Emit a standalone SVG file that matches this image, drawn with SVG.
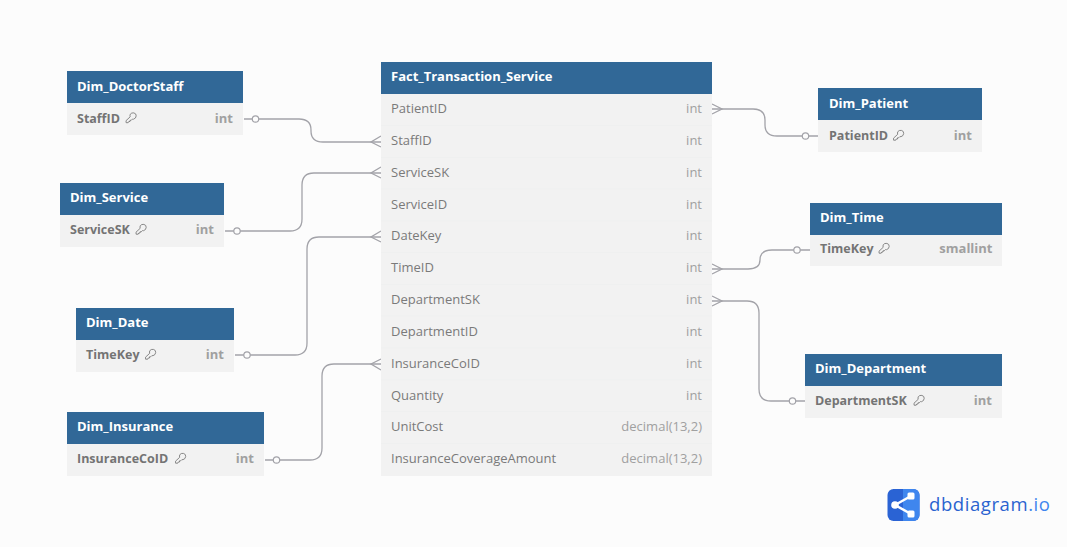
<svg xmlns="http://www.w3.org/2000/svg" width="1067" height="547" viewBox="0 0 1067 547">
<style>
text{font-family:"Open Sans","Noto Sans","DejaVu Sans",sans-serif;font-size:13px}
.hd{fill:#316897}
.bd{fill:#f2f2f2}
.ln{fill:none;stroke:#eff0f0;stroke-width:1}
.t{fill:#fff;font-weight:700}
.f{fill:#7a7a7a}
.ty{fill:#a0a0a0;text-anchor:end}
.k{font-weight:700;fill:#747474;font-size:12.5px}
.tk{font-weight:700;fill:#a0a0a0;text-anchor:end}
.c{fill:none;stroke:#a3a3a9;stroke-width:1.3}
.o{fill:#fcfcfc;stroke:#a3a3a9;stroke-width:1.2}
.key{fill:none;stroke:#7c7c7c;stroke-width:.9}
</style>
<defs>
<g id="key"><path class="key" d="M4.800 1.700Q6 0 8.400 .4Q10.800 1 10.700 3.400Q10.500 6 8 6.700L6.900 6.600L5.700 7.800H4.500V9H3.300L2.700 10.200H.6L.5 8.200L4.700 4.300Q4.200 3 4.800 1.700Z"/></g>
</defs>
<rect width="1067" height="547" fill="#fcfcfc"/>
<g id="connectors">
<path class="c" d="M244 119H299Q311 119 311 130V131Q311 142 323 142H381"/><path class="c" d="M381 136L371 142L381 147"/><circle class="o" cx="255.500" cy="119" r="3.200"/>
<path class="c" d="M225 231H290Q302 231 302 219V185Q302 173 314 173H381"/><path class="c" d="M381 167L371 173L381 178"/><circle class="o" cx="237" cy="231" r="3.200"/>
<path class="c" d="M235 355H295Q307 355 307 343V249Q307 237 319 237H381"/><path class="c" d="M381 231L371 237L381 242"/><circle class="o" cx="247" cy="355" r="3.200"/>
<path class="c" d="M265 460H310Q322 460 322 448V376Q322 364 334 364H381"/><path class="c" d="M381 359L371 364L381 370"/><circle class="o" cx="276.500" cy="460" r="3.200"/>
<path class="c" d="M712 109H753Q765 109 765 120V125Q765 136 777 136H818"/><path class="c" d="M712 104L722 109L712 114"/><circle class="o" cx="805.500" cy="136" r="3.200"/>
<path class="c" d="M712 269H748Q760 269 760 260Q760 250 772 250H810"/><path class="c" d="M712 264L722 269L712 274"/><circle class="o" cx="797" cy="250" r="3.200"/>
<path class="c" d="M712 301H747Q759 301 759 313V389Q759 401 771 401H805"/><path class="c" d="M712 296L722 301L712 306"/><circle class="o" cx="792.500" cy="401" r="3.200"/>
</g>
<g id="Fact_Transaction_Service">
<rect class="bd" x="381" y="94" width="331" height="382"/>
<rect class="hd" x="381" y="62" width="331" height="32"/>
<path class="ln" d="M381 125.500H712M381 157.500H712M381 189H712M381 221H712M381 252.500H712M381 284.500H712M381 316H712M381 348H712M381 380H712M381 411.500H712M381 443.500H712"/>
<text class="t" x="391" y="81">Fact_Transaction_Service</text>
<text class="f" x="391" y="113">PatientID</text><text class="ty" x="702" y="113">int</text>
<text class="f" x="391" y="145">StaffID</text><text class="ty" x="702" y="145">int</text>
<text class="f" x="391" y="177">ServiceSK</text><text class="ty" x="702" y="177">int</text>
<text class="f" x="391" y="209">ServiceID</text><text class="ty" x="702" y="209">int</text>
<text class="f" x="391" y="240">DateKey</text><text class="ty" x="702" y="240">int</text>
<text class="f" x="391" y="272">TimeID</text><text class="ty" x="702" y="272">int</text>
<text class="f" x="391" y="304">DepartmentSK</text><text class="ty" x="702" y="304">int</text>
<text class="f" x="391" y="336">DepartmentID</text><text class="ty" x="702" y="336">int</text>
<text class="f" x="391" y="368">InsuranceCoID</text><text class="ty" x="702" y="368">int</text>
<text class="f" x="391" y="400">Quantity</text><text class="ty" x="702" y="400">int</text>
<text class="f" x="391" y="431">UnitCost</text><text class="ty" x="702" y="431">decimal(13,2)</text>
<text class="f" x="391" y="463">InsuranceCoverageAmount</text><text class="ty" x="702" y="463">decimal(13,2)</text>
</g>
<g id="Dim_DoctorStaff">
<rect class="bd" x="67" y="103" width="176" height="32"/><rect class="hd" x="67" y="71" width="176" height="32"/>
<text class="t" x="77" y="91">Dim_DoctorStaff</text>
<text class="k" x="77" y="123">StaffID</text><use href="#key" x="125.500" y="112.500"/><text class="tk" x="233" y="123">int</text>
</g>
<g id="Dim_Service">
<rect class="bd" x="60" y="215" width="164" height="32"/><rect class="hd" x="60" y="183" width="164" height="32"/>
<text class="t" x="70" y="202">Dim_Service</text>
<text class="k" x="70" y="234">ServiceSK</text><use href="#key" x="135.500" y="224"/><text class="tk" x="214" y="234">int</text>
</g>
<g id="Dim_Date">
<rect class="bd" x="76" y="340" width="158" height="32"/><rect class="hd" x="76" y="308" width="158" height="32"/>
<text class="t" x="86" y="327">Dim_Date</text>
<text class="k" x="86" y="359">TimeKey</text><use href="#key" x="145" y="349"/><text class="tk" x="224" y="359">int</text>
</g>
<g id="Dim_Insurance">
<rect class="bd" x="67" y="444" width="197" height="32"/><rect class="hd" x="67" y="412" width="197" height="32"/>
<text class="t" x="77" y="431">Dim_Insurance</text>
<text class="k" x="77" y="463">InsuranceCoID</text><use href="#key" x="175" y="453"/><text class="tk" x="254" y="463">int</text>
</g>
<g id="Dim_Patient">
<rect class="bd" x="818" y="120" width="164" height="32"/><rect class="hd" x="818" y="88" width="164" height="32"/>
<text class="t" x="829" y="108">Dim_Patient</text>
<text class="k" x="829" y="140">PatientID</text><use href="#key" x="893" y="130"/><text class="tk" x="972" y="140">int</text>
</g>
<g id="Dim_Time">
<rect class="bd" x="810" y="235" width="192" height="31"/><rect class="hd" x="810" y="203" width="192" height="32"/>
<text class="t" x="820" y="222">Dim_Time</text>
<text class="k" x="820" y="253">TimeKey</text><use href="#key" x="878.500" y="243"/><text class="tk" x="992.500" y="253">smallint</text>
</g>
<g id="Dim_Department">
<rect class="bd" x="805" y="386" width="197" height="32"/><rect class="hd" x="805" y="354" width="197" height="32"/>
<text class="t" x="815" y="373">Dim_Department</text>
<text class="k" x="815" y="405">DepartmentSK</text><use href="#key" x="913.500" y="395"/><text class="tk" x="992" y="405">int</text>
</g>
<g id="logo">
<rect x="887.500" y="489" width="32" height="32" rx="6" fill="#2a63d4"/>
<path d="M903 489H913.500a6 6 0 0 1 6 6V515a6 6 0 0 1-6 6H903Z" fill="#3f86ee"/>
<path d="M895 505L911 496M895 505L911 514" stroke="#fff" stroke-width="2.500" fill="none"/>
<circle cx="895" cy="505" r="3.800" fill="#fff"/><rect x="907.500" y="492.500" width="7" height="7" rx="1.500" fill="#fff"/><rect x="907.500" y="510.500" width="7" height="7" rx="1.500" fill="#fff"/>
<text x="929" y="511" style="font-size:18.500px" fill="#2a63d0" textLength="121" lengthAdjust="spacing">dbdiagram<tspan fill="#3f86ee">.io</tspan></text>
</g>
</svg>
